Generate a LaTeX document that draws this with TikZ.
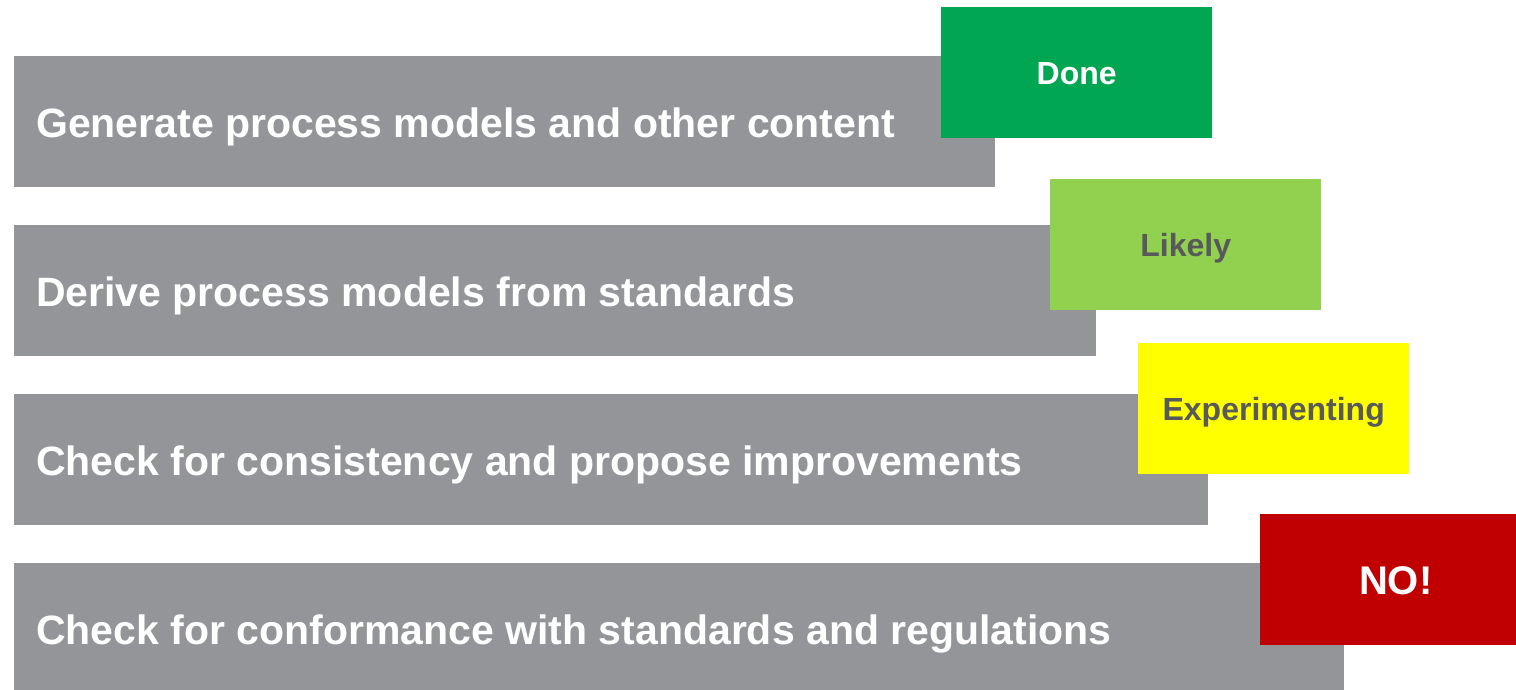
\documentclass[tikz,border=0pt]{standalone}
\usepackage{fontspec}
\setmainfont{Liberation Sans}
\definecolor{bargray}{RGB}{147,149,152}
\definecolor{donegreen}{RGB}{0,166,81}
\definecolor{likelygreen}{RGB}{146,208,80}
\definecolor{expyellow}{RGB}{255,255,0}
\definecolor{nored}{RGB}{192,0,0}
\definecolor{darktext}{RGB}{88,89,91}
\tikzset{
  bar/.style={fill=bargray, draw=none, anchor=north west, minimum height=131pt, inner sep=0pt},
  bartext/.style={text=white, anchor=base west, inner sep=0pt, font=\bfseries\fontsize{41}{49}\selectfont},
  tag/.style={draw=none, anchor=north west, minimum width=271pt, minimum height=131pt, inner sep=0pt,
    font=\bfseries\fontsize{32}{38}\selectfont, text height=23pt, text depth=0pt},
}
\begin{document}
\begin{tikzpicture}[x=1pt,y=-1pt]
\useasboundingbox (0,0) rectangle (1516,689);
\clip (0,0) rectangle (1516,689);
\node[bar, minimum width=981pt] (b1) at (14,56) {};
\node[bar, minimum width=1082pt] (b2) at (14,225) {};
\node[bar, minimum width=1194pt] (b3) at (14,394) {};
\node[bar, minimum width=1330pt] (b4) at (14,563) {};
\node[bartext] (t1) at (36,137) {Generate process models and other content};
\node[bartext] (t2) at (36,306) {Derive process models from standards};
\node[bartext] (t3) at (36,475) {Check for consistency and propose improvements};
\node[bartext] (t4) at (36,644) {Check for conformance with standards and regulations};
\node[tag, fill=donegreen, text=white] (done) at (941,7) {Done};
\node[tag, fill=likelygreen, text=darktext] (likely) at (1050,179) {Likely};
\node[tag, fill=expyellow, text=darktext] (exp) at (1138,343) {Experimenting};
\node[tag, fill=nored, text=white, font=\bfseries\fontsize{40}{48}\selectfont, text height=28.6pt] (no) at (1260,514) {NO!};
\end{tikzpicture}
\end{document}
